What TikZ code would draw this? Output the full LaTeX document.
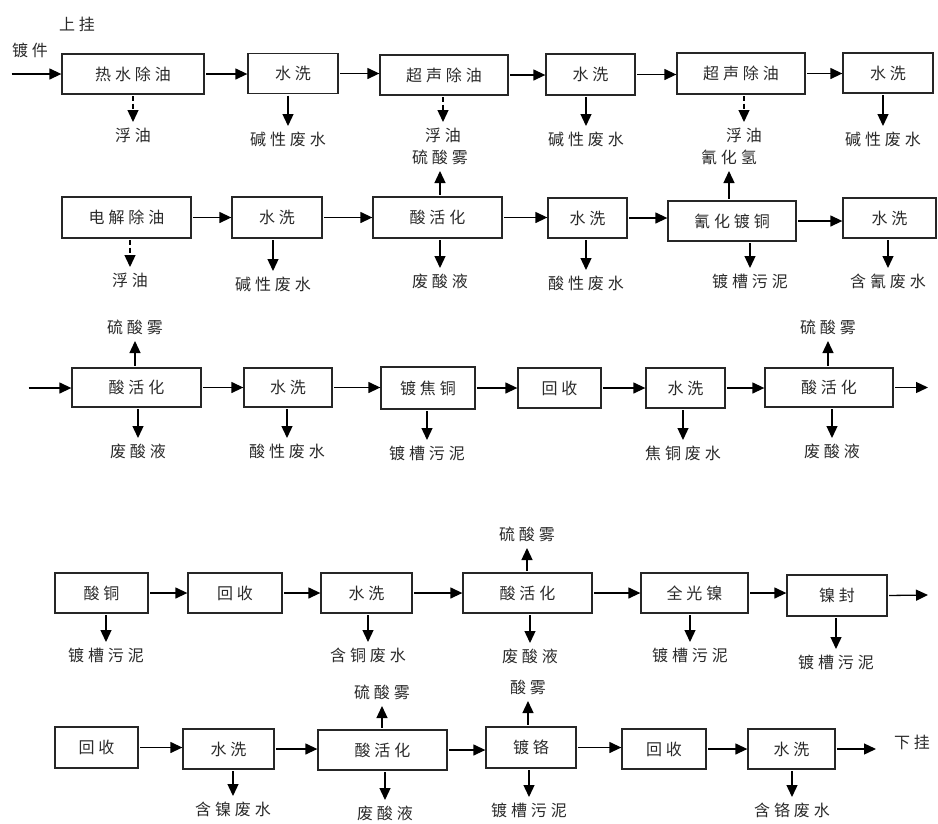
\documentclass[tikz,border=0pt]{standalone}
\usepackage{fontspec}
\newfontfamily\cjk{Noto Sans CJK SC}[LetterSpace=24]
\usetikzlibrary{arrows.meta}
\definecolor{txt}{HTML}{2A2A2A}
\newcommand{\cjkf}{\cjk\fontsize{16}{16}\selectfont}
\begin{document}
\begin{tikzpicture}[x=1pt,y=-1pt,
  box/.style={draw=black!85, line width=1.3pt, rectangle, inner sep=0pt, text=txt, font=\cjkf},
  lbl/.style={inner xsep=0pt, inner ysep=6pt, text=txt, font=\cjkf},
  arr/.style={-{Triangle[length=12pt,width=11pt]}, line width=1.3pt, shorten <=1.5pt},
  darr/.style={arr, dash pattern=on 5pt off 2.5pt}]
\useasboundingbox (0,0) rectangle (938,823);
% ---------- row 1
\node[lbl] (shang) at (77,24) {上挂};
\node[lbl] (dujian) at (30,50) {镀件};
\coordinate (i1) at (10,74);
\node[box, minimum width=142pt, minimum height=40pt] (b11) at (133,74) {热水除油};
\node[box, minimum width=90pt, minimum height=40pt] (b12) at (293,73.5) {水洗};
\node[box, minimum width=128pt, minimum height=40pt] (b13) at (444,75) {超声除油};
\node[box, minimum width=89pt, minimum height=41pt] (b14) at (590.5,74.5) {水洗};
\node[box, minimum width=128pt, minimum height=41pt] (b15) at (741,73.5) {超声除油};
\node[box, minimum width=90pt, minimum height=40pt] (b16) at (888,73) {水洗};
\draw[arr] (i1) -- (i1 -| b11.west);
\draw[arr] (b11.east) -- (b11.east -| b12.west);
\draw[arr] (b12.east) -- (b12.east -| b13.west);
\draw[arr] (b13.east) -- (b13.east -| b14.west);
\draw[arr] (b14.east) -- (b14.east -| b15.west);
\draw[arr] (b15.east) -- (b15.east -| b16.west);
\node[lbl, anchor=north] (o11) at (133,122) {浮油};
\node[lbl, anchor=north] (o12) at (288,126) {碱性废水};
\node[lbl, anchor=north] (o13) at (443,122) {浮油};
\node[lbl, anchor=north] (o14) at (586,126) {碱性废水};
\node[lbl, anchor=north] (o15) at (744,122) {浮油};
\node[lbl, anchor=north] (o16) at (883,126) {碱性废水};
\draw[darr] (b11.south -| o11) -- (o11.north);
\draw[arr] (b12.south -| o12) -- (o12.north);
\draw[darr] (b13.south -| o13) -- (o13.north);
\draw[arr] (b14.south -| o14) -- (o14.north);
\draw[darr] (b15.south -| o15) -- (o15.north);
\draw[arr] (b16.south -| o16) -- (o16.north);
% ---------- row 2
\node[box, minimum width=129pt, minimum height=41pt] (b21) at (126.5,217.5) {电解除油};
\node[box, minimum width=90pt, minimum height=41pt] (b22) at (277,217.5) {水洗};
\node[box, minimum width=129pt, minimum height=41pt] (b23) at (437.5,217.5) {酸活化};
\node[box, minimum width=79pt, minimum height=40pt] (b24) at (587.5,218) {水洗};
\node[box, minimum width=128pt, minimum height=40pt] (b25) at (732,221) {氰化镀铜};
\node[box, minimum width=93pt, minimum height=40pt] (b26) at (889.5,218) {水洗};
\draw[arr] (b21.east) -- (b21.east -| b22.west);
\draw[arr] (b22.east) -- (b22.east -| b23.west);
\draw[arr] (b23.east) -- (b23.east -| b24.west);
\draw[arr] (b24.east) -- (b24.east -| b25.west);
\draw[arr] (b25.east) -- (b25.east -| b26.west);
\node[lbl, anchor=north] (o21) at (130,267) {浮油};
\node[lbl, anchor=north] (o22) at (273,271) {碱性废水};
\node[lbl, anchor=north] (o23) at (440,268) {废酸液};
\node[lbl, anchor=south] (u23) at (440,171) {硫酸雾};
\node[lbl, anchor=north] (o24) at (586,270) {酸性废水};
\node[lbl, anchor=north] (o25) at (750,268) {镀槽污泥};
\node[lbl, anchor=south] (u25) at (729,171) {氰化氢};
\node[lbl, anchor=north] (o26) at (888,268) {含氰废水};
\draw[darr] (b21.south -| o21) -- (o21.north);
\draw[arr] (b22.south -| o22) -- (o22.north);
\draw[arr] (b23.south -| o23) -- (o23.north);
\draw[arr] (b23.north -| u23) -- (u23.south);
\draw[arr] (b24.south -| o24) -- (o24.north);
\draw[arr] (b25.south -| o25) -- (o25.north);
\draw[arr] (b25.north -| u25) -- (u25.south);
\draw[arr] (b26.south -| o26) -- (o26.north);
% ---------- row 3
\coordinate (i3) at (27,388);
\coordinate (e3) at (928,387.5);
\node[box, minimum width=129pt, minimum height=39pt] (b31) at (136.5,387.5) {酸活化};
\node[box, minimum width=88pt, minimum height=39pt] (b32) at (288,387.5) {水洗};
\node[box, minimum width=94pt, minimum height=42pt] (b33) at (428,388) {镀焦铜};
\node[box, minimum width=83pt, minimum height=40pt] (b34) at (559.5,388) {回收};
\node[box, minimum width=79pt, minimum height=40pt] (b35) at (685.5,388) {水洗};
\node[box, minimum width=128pt, minimum height=39pt] (b36) at (829,387.5) {酸活化};
\draw[arr] (i3) -- (i3 -| b31.west);
\draw[arr] (b31.east) -- (b31.east -| b32.west);
\draw[arr] (b32.east) -- (b32.east -| b33.west);
\draw[arr] (b33.east) -- (b33.east -| b34.west);
\draw[arr] (b34.east) -- (b34.east -| b35.west);
\draw[arr] (b35.east) -- (b35.east -| b36.west);
\draw[arr] (b36.east) -- (e3);
\node[lbl, anchor=south] (u31) at (135,341) {硫酸雾};
\node[lbl, anchor=north] (o31) at (138,438) {废酸液};
\node[lbl, anchor=north] (o32) at (287,438) {酸性废水};
\node[lbl, anchor=north] (o33) at (427,440) {镀槽污泥};
\node[lbl, anchor=north] (o35) at (683,440) {焦铜废水};
\node[lbl, anchor=south] (u36) at (828,341) {硫酸雾};
\node[lbl, anchor=north] (o36) at (832,438) {废酸液};
\draw[arr] (b31.north -| u31) -- (u31.south);
\draw[arr] (b31.south -| o31) -- (o31.north);
\draw[arr] (b32.south -| o32) -- (o32.north);
\draw[arr] (b33.south -| o33) -- (o33.north);
\draw[arr] (b35.south -| o35) -- (o35.north);
\draw[arr] (b36.north -| u36) -- (u36.south);
\draw[arr] (b36.south -| o36) -- (o36.north);
% ---------- row 4
\coordinate (e4) at (928,595);
\node[box, minimum width=93pt, minimum height=40pt] (b41) at (101.5,593) {酸铜};
\node[box, minimum width=94pt, minimum height=40pt] (b42) at (235,593) {回收};
\node[box, minimum width=91pt, minimum height=40pt] (b43) at (366.5,593) {水洗};
\node[box, minimum width=129pt, minimum height=40pt] (b44) at (527.5,593) {酸活化};
\node[box, minimum width=107pt, minimum height=40pt] (b45) at (694.5,593) {全光镍};
\node[box, minimum width=100pt, minimum height=41pt] (b46) at (837,595.5) {镍封};
\draw[arr] (b41.east) -- (b41.east -| b42.west);
\draw[arr] (b42.east) -- (b42.east -| b43.west);
\draw[arr] (b43.east) -- (b43.east -| b44.west);
\draw[arr] (b44.east) -- (b44.east -| b45.west);
\draw[arr] (b45.east) -- (b45.east -| b46.west);
\draw[arr] (b46.east) -- (e4);
\node[lbl, anchor=north] (o41) at (106,642) {镀槽污泥};
\node[lbl, anchor=north] (o43) at (368,642) {含铜废水};
\node[lbl, anchor=south] (u44) at (527,548) {硫酸雾};
\node[lbl, anchor=north] (o44) at (530,643) {废酸液};
\node[lbl, anchor=north] (o45) at (690,642) {镀槽污泥};
\node[lbl, anchor=north] (o46) at (836,649) {镀槽污泥};
\draw[arr] (b41.south -| o41) -- (o41.north);
\draw[arr] (b43.south -| o43) -- (o43.north);
\draw[arr] (b44.north -| u44) -- (u44.south);
\draw[arr] (b44.south -| o44) -- (o44.north);
\draw[arr] (b45.south -| o45) -- (o45.north);
\draw[arr] (b46.south -| o46) -- (o46.north);
% ---------- row 5
\coordinate (e5) at (876,749);
\node[box, minimum width=83pt, minimum height=41pt] (b51) at (96.5,747.5) {回收};
\node[box, minimum width=91pt, minimum height=40pt] (b52) at (228.5,749) {水洗};
\node[box, minimum width=129pt, minimum height=40pt] (b53) at (382.5,750) {酸活化};
\node[box, minimum width=90pt, minimum height=41pt] (b54) at (531,747.5) {镀铬};
\node[box, minimum width=84pt, minimum height=40pt] (b55) at (664,749) {回收};
\node[box, minimum width=87pt, minimum height=40pt] (b56) at (791.5,749) {水洗};
\draw[arr] (b51.east) -- (b51.east -| b52.west);
\draw[arr] (b52.east) -- (b52.east -| b53.west);
\draw[arr] (b53.east) -- (b53.east -| b54.west);
\draw[arr] (b54.east) -- (b54.east -| b55.west);
\draw[arr] (b55.east) -- (b55.east -| b56.west);
\draw[arr] (b56.east) -- (e5);
\node[lbl] (xia) at (912,742) {下挂};
\node[lbl, anchor=north] (o52) at (233,796) {含镍废水};
\node[lbl, anchor=south] (u53) at (382,706) {硫酸雾};
\node[lbl, anchor=north] (o53) at (385,800) {废酸液};
\node[lbl, anchor=south] (u54) at (528,701) {酸雾};
\node[lbl, anchor=north] (o54) at (529,797) {镀槽污泥};
\node[lbl, anchor=north] (o56) at (792,797) {含铬废水};
\draw[arr] (b52.south -| o52) -- (o52.north);
\draw[arr] (b53.north -| u53) -- (u53.south);
\draw[arr] (b53.south -| o53) -- (o53.north);
\draw[arr] (b54.north -| u54) -- (u54.south);
\draw[arr] (b54.south -| o54) -- (o54.north);
\draw[arr] (b56.south -| o56) -- (o56.north);
\end{tikzpicture}
\end{document}
